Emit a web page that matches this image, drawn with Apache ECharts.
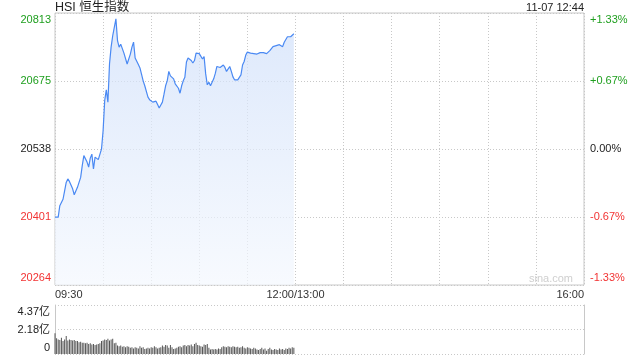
<!DOCTYPE html>
<html><head><meta charset="utf-8">
<script src="https://cdn.jsdelivr.net/npm/echarts@6/dist/echarts.min.js"></script>
<style>html,body{margin:0;padding:0;background:#fff}#c{width:640px;height:360px}</style>
</head><body><div id="c"></div>
<script>
const titleText = 'HSI 恒生指数';
const stampText = '11-07 12:44';
const watermark = 'sina.com';
const prevClose = 20538.4;
const step = 137.25;
const priceLabels = ['20264', '20401', '20538', '20675', '20813'];
const pctLabels = ['-1.33%', '-0.67%', '0.00%', '+0.67%', '+1.33%'];
const timeLabels = { 0: '09:30', 150: '12:00/13:00', 330: '16:00' };
const volLabels = ['0', '2.18亿', '4.37亿'];
const volMax = 4.37;
const totalMinutes = 330;

// one value per minute from 09:30
const prices = [
  20401, 20404, 20401, 20424, 20422, 20437, 20454, 20471, 20478, 20473,
  20477, 20458, 20446, 20449, 20461, 20471, 20481, 20505, 20525, 20523,
  20512, 20502, 20520, 20528, 20498, 20522, 20520, 20517, 20515, 20538,
  20575, 20636, 20658, 20633, 20710, 20744, 20767, 20771, 20801, 20757,
  20744, 20750, 20754, 20732, 20734, 20710, 20709, 20730, 20744, 20754,
  20722, 20719, 20709, 20702, 20689, 20676, 20666, 20664, 20643, 20638,
  20638, 20633, 20631, 20635, 20628, 20621, 20617, 20633, 20649, 20666,
  20676, 20695, 20686, 20683, 20680, 20670, 20666, 20661, 20651, 20666,
  20676, 20683, 20714, 20722, 20724, 20717, 20712, 20717, 20732, 20731,
  20731, 20728, 20720, 20725, 20690, 20668, 20673, 20666, 20673, 20680,
  20691, 20705, 20706, 20703, 20706, 20708, 20703, 20695, 20698, 20705,
  20695, 20684, 20678, 20679, 20678, 20683, 20688, 20708, 20715, 20728,
  20734, 20735, 20732, 20733, 20731, 20732, 20730, 20731, 20733, 20735,
  20733, 20730, 20731, 20735, 20737, 20740, 20745, 20746, 20747, 20750,
  20749, 20745, 20745, 20754, 20758, 20765, 20763, 20765, 20769, 20771
];
// volume, 亿
const volumes = [
  1.85, 1.4, 1.3, 1.25, 1.45, 1.15, 1.3, 1.6, 1.2, 1.3,
  1.25, 1.2, 1.25, 1.15, 1.15, 1.05, 1.1, 1.0, 1.0, 0.95,
  1.0, 0.9, 0.95, 0.85, 0.9, 0.8, 0.85, 0.9, 0.95, 1.15,
  1.2, 1.3, 1.25, 1.35, 1.2, 1.3, 1.35, 0.95, 1.0, 0.75,
  0.7, 0.75, 0.65, 0.7, 0.6, 0.7, 0.65, 0.55, 0.6, 0.5,
  0.6, 0.55, 0.5, 0.7, 0.55, 0.6, 0.45, 0.5, 0.55, 0.5,
  0.6, 0.55, 0.7, 0.6, 0.5, 0.55, 0.6, 0.75, 0.65, 0.8,
  0.75, 0.55, 0.8, 0.6, 0.45, 0.5, 0.55, 0.65, 0.7, 0.6,
  0.75, 0.8, 0.7, 0.8, 0.75, 0.85, 0.7, 0.9, 1.0, 0.8,
  0.75, 0.7, 0.65, 0.85, 0.8, 0.9, 0.55, 0.4, 0.45, 0.4,
  0.45, 0.4, 0.5, 0.45, 0.6, 0.7, 0.65, 0.6, 0.7, 0.65,
  0.6, 0.7, 0.65, 0.6, 0.65, 0.55, 0.6, 0.7, 0.55, 0.5,
  0.6, 0.55, 0.5, 0.45, 0.55, 0.5, 0.4, 0.35, 0.45, 0.55,
  0.4, 0.5, 0.3, 0.45, 0.55, 0.4, 0.35, 0.45, 0.4, 0.35,
  0.5, 0.4, 0.45, 0.35, 0.5, 0.45, 0.55, 0.5, 0.6, 0.55
];

const FONT = '"Liberation Sans", Arial, "Noto Sans CJK SC", sans-serif';
const GREEN = '#1f9f1f', RED = '#f23333', DARK = '#222', GRID = '#c8c8c8';

function textW(t, size) {
  const c = document.createElement('canvas').getContext('2d');
  c.font = size + 'px ' + FONT;
  return c.measureText(t).width;
}

const priceData = prices.map((p, i) => [i, p - prevClose]);
const volData = volumes.map((v, i) => [i, v]);

const richBase = { fontSize: 11, fontFamily: FONT };
const priceRich = {
  rb: Object.assign({ color: RED, padding: [0, 0, 14, 0] }, richBase),
  r: Object.assign({ color: RED }, richBase),
  k: Object.assign({ color: DARK }, richBase),
  g: Object.assign({ color: GREEN }, richBase),
  gt: Object.assign({ color: GREEN, padding: [14, 0, 0, 0] }, richBase)
};
const keys = ['rb', 'r', 'k', 'g', 'gt'];
const idx = v => Math.round(v / step) + 2;

const chart = echarts.init(document.getElementById('c'), null, { renderer: 'canvas' });
const wL = textW(timeLabels[0], 11), wR = textW(timeLabels[330], 11);

chart.setOption({
  animation: false,
  backgroundColor: '#fff',
  title: { text: titleText, left: 55, top: 1, padding: 0,
    textStyle: { fontSize: 12.5, fontWeight: 'normal', color: DARK, fontFamily: FONT } },
  graphic: [
    { type: 'text', right: 56, top: 2, style: { text: stampText, fill: DARK, font: '11px ' + FONT } },
    { type: 'text', right: 67, top: 273, z: 0, style: { text: watermark, fill: '#cfcfcf', font: '11px ' + FONT } }
  ],
  grid: [
    { left: 55, right: 56, top: 13, height: 272, show: true, borderColor: GRID, borderWidth: 1, backgroundColor: 'transparent' },
    { left: 55, right: 56, top: 305, height: 49 }
  ],
  xAxis: [
    { type: 'value', gridIndex: 0, min: 0, max: totalMinutes, interval: 30,
      axisLine: { show: false }, axisTick: { show: false },
      splitLine: { show: true, lineStyle: { color: GRID, type: [1, 2] } },
      axisLabel: { show: true, margin: 4, color: '#333', fontSize: 11, fontFamily: FONT,
        formatter: v => {
          if (v === 0) return '{l|' + timeLabels[0] + '}';
          if (v === totalMinutes) return '{r|' + timeLabels[totalMinutes] + '}';
          return timeLabels[v] || '';
        },
        rich: {
          l: Object.assign({ color: '#333', padding: [0, 0, 0, wL] }, richBase),
          r: Object.assign({ color: '#333', padding: [0, wR, 0, 0] }, richBase)
        }
      } },
    { type: 'value', gridIndex: 1, min: 0, max: totalMinutes, interval: 30,
      axisLine: { show: false }, axisTick: { show: false }, axisLabel: { show: false },
      splitLine: { show: false } }
  ],
  yAxis: [
    { type: 'value', gridIndex: 0, min: -2 * step, max: 2 * step, interval: step,
      axisLine: { show: false }, axisTick: { show: false },
      splitLine: { show: true, lineStyle: { color: GRID, type: [1, 2] } },
      axisLabel: { margin: 4, formatter: v => '{' + keys[idx(v)] + '|' + priceLabels[idx(v)] + '}', rich: priceRich } },
    { type: 'value', gridIndex: 0, position: 'right', min: -2 * step, max: 2 * step, interval: step,
      axisLine: { show: false }, axisTick: { show: false }, splitLine: { show: false },
      axisLabel: { margin: 6, formatter: v => '{' + keys[idx(v)] + '|' + pctLabels[idx(v)] + '}', rich: priceRich } },
    { type: 'value', gridIndex: 1, min: 0, max: volMax, interval: volMax / 2,
      axisLine: { show: true, lineStyle: { color: GRID } }, axisTick: { show: false },
      splitLine: { show: true, lineStyle: { color: GRID, type: [1, 2] } },
      axisLabel: { margin: 5, color: DARK,
        formatter: v => {
          const i = Math.round(v / (volMax / 2));
          return '{' + ['b', 'm', 't'][i] + '|' + volLabels[i] + '}';
        },
        rich: {
          b: Object.assign({ color: DARK, padding: [0, 0, 12, 0] }, richBase),
          m: Object.assign({ color: DARK }, richBase),
          t: Object.assign({ color: DARK, padding: [14, 0, 0, 0] }, richBase)
        } } },
    { type: 'value', gridIndex: 1, position: 'right', min: 0, max: volMax, interval: volMax / 2,
      axisLine: { show: true, lineStyle: { color: GRID } }, axisTick: { show: false },
      axisLabel: { show: false }, splitLine: { show: false } }
  ],
  series: [
    { type: 'line', xAxisIndex: 0, yAxisIndex: 0, data: priceData, showSymbol: false, symbol: 'none',
      lineStyle: { color: '#4a89f3', width: 1.2 },
      areaStyle: { origin: 'start', color: new echarts.graphic.LinearGradient(0, 0, 0, 1, [
        { offset: 0, color: '#cfdffa' }, { offset: 1, color: '#f4f8fe' }]) } },
    { type: 'bar', xAxisIndex: 1, yAxisIndex: 2, data: volData, barWidth: 1,
      itemStyle: { color: '#555' } }
  ]
});
</script>
</body></html>
